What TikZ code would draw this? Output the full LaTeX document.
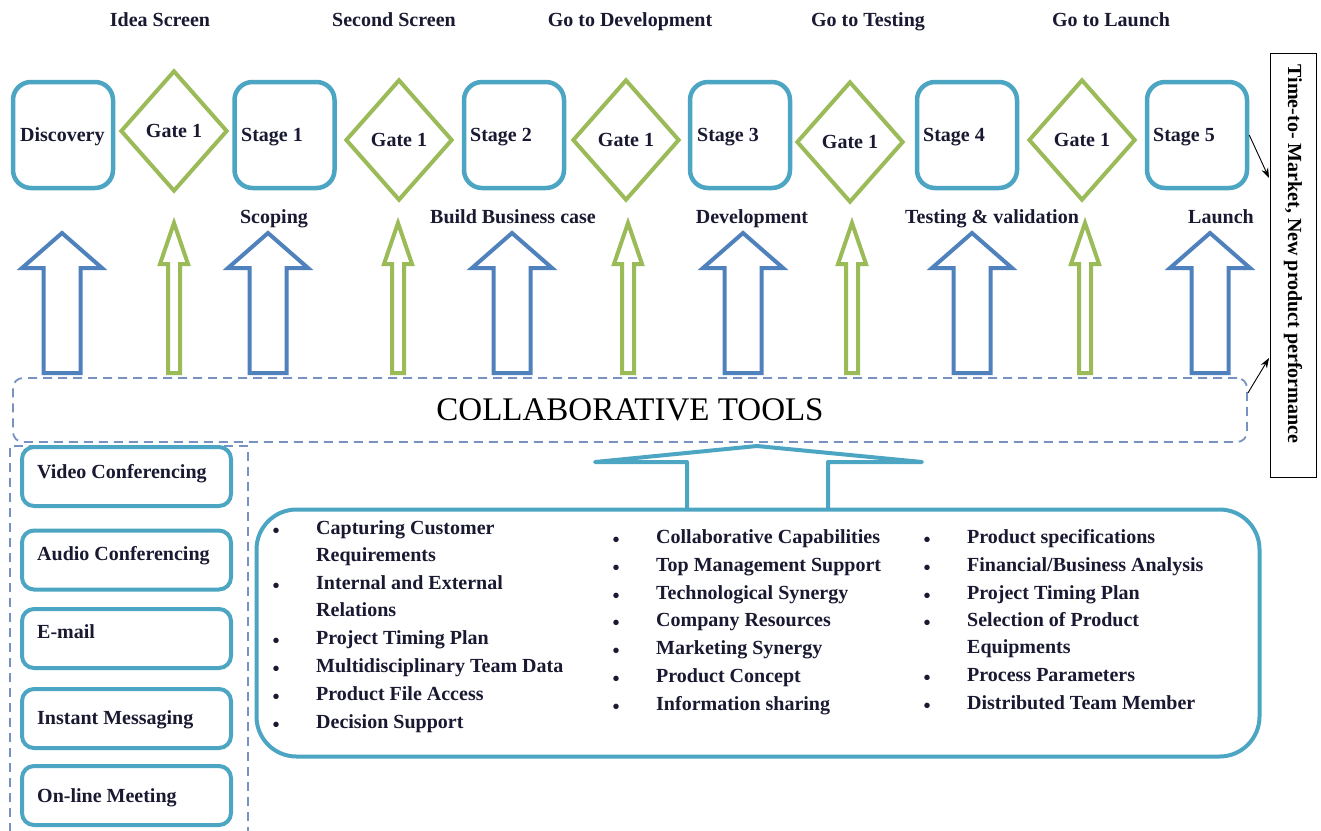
\documentclass[tikz,border=0pt]{standalone}
\usepackage{fontspec}
\setmainfont{Liberation Serif}
\usetikzlibrary{shapes.geometric,arrows.meta,calc}
\definecolor{tealc}{RGB}{75,165,195}
\definecolor{bluec}{RGB}{79,129,189}
\definecolor{greenc}{RGB}{155,187,89}
\definecolor{dashc}{RGB}{120,145,195}
\definecolor{textc}{RGB}{25,25,50}
\newcommand{\lblfont}{\fontsize{20}{24}\selectfont\bfseries}
\tikzset{
  lbl/.style={font=\lblfont, text=textc, inner sep=0pt, yshift=-4.5pt},
  stagebox/.style={draw=tealc, line width=4.5pt, rounded corners=18pt, minimum width=100pt, minimum height=106pt, inner sep=0pt},
  gatebox/.style={diamond, draw=greenc, line width=4pt, minimum width=107pt, minimum height=121pt, inner sep=0pt, font=\lblfont, text=textc},
  toolbox/.style={draw=tealc, line width=4pt, rounded corners=12pt, minimum width=209pt, minimum height=59pt, inner sep=0pt},
  dashline/.style={draw=dashc, line width=1.8pt, dash pattern=on 9pt off 6pt},
  blk/.style={draw=black, line width=0.9pt, -{Stealth[length=10pt,width=7pt]}},
  bluearrow/.pic={\draw[draw=bluec, line width=4pt, line join=miter] (-18.5,0) -- (-18.5,-105) -- (-40,-105) -- (0,-140) -- (40,-105) -- (18.5,-105) -- (18.5,0) -- cycle;},
  greenarrow/.pic={\draw[draw=greenc, line width=4pt, line join=miter] (-6,0) -- (-6,-109) -- (-14,-109) -- (0,-150) -- (14,-109) -- (6,-109) -- (6,0) -- cycle;}
}
\begin{document}
\begin{tikzpicture}[x=1pt,y=-1pt]
\useasboundingbox (0,0) rectangle (1321,830);
\fill[white] (0,0) rectangle (1321,830);

% top gate labels
\node[lbl, anchor=mid] (l1) at (160,20) {Idea Screen};
\node[lbl, anchor=mid] (l2) at (394,20) {Second Screen};
\node[lbl, anchor=mid] (l3) at (630,20) {Go to Development};
\node[lbl, anchor=mid] (l4) at (868,20) {Go to Testing};
\node[lbl, anchor=mid] (l5) at (1111,20) {Go to Launch};

% stage boxes
\node[stagebox] (s0) at (63,135) {};
\node[stagebox] (s1) at (284.5,135) {};
\node[stagebox] (s2) at (514,135) {};
\node[stagebox] (s3) at (740,135) {};
\node[stagebox] (s4) at (967,135) {};
\node[stagebox] (s5) at (1197,135) {};
\node[lbl, anchor=mid west] (s0t) at (20,135) {Discovery};
\node[lbl, anchor=mid west] (s1t) at (241,135) {Stage 1};
\node[lbl, anchor=mid west] (s2t) at (470,135) {Stage 2};
\node[lbl, anchor=mid west] (s3t) at (697,135) {Stage 3};
\node[lbl, anchor=mid west] (s4t) at (923,135) {Stage 4};
\node[lbl, anchor=mid west] (s5t) at (1153,135) {Stage 5};

% gates
\node[gatebox] (g1) at (174,131) {Gate 1};
\node[gatebox] (g2) at (399,140) {Gate 1};
\node[gatebox] (g3) at (626,140) {Gate 1};
\node[gatebox] (g4) at (850,142) {Gate 1};
\node[gatebox] (g5) at (1082,140) {Gate 1};

% stage names
\node[lbl, anchor=mid] (n1) at (274,217) {Scoping};
\node[lbl, anchor=mid] (n2) at (513,217) {Build Business case};
\node[lbl, anchor=mid] (n3) at (752,217) {Development};
\node[lbl, anchor=mid] (n4) at (992,217) {Testing \& validation};
\node[lbl, anchor=mid] (n5) at (1221,217) {Launch};

% block arrows
\foreach \x in {62,268,512,743,972,1210} \pic at (\x,373) {bluearrow};
\foreach \x in {174,398,628,852,1085} \pic at (\x,373) {greenarrow};

% collaborative tools
\node[dashline, draw, rounded corners=10pt, minimum width=1234pt, minimum height=64pt, inner sep=0pt,
      font=\fontsize{33}{36}\selectfont, text=black] (collab) at (630,410) {COLLABORATIVE TOOLS};

% left column
\draw[dashline] (10,832) -- (10,446) -- (248,446) -- (248,832);
\node[toolbox] (t1) at (126.5,476.5) {};
\node[toolbox] (t2) at (126.5,560) {};
\node[toolbox] (t3) at (126.5,638.5) {};
\node[toolbox] (t4) at (126.5,718.5) {};
\node[toolbox] (t5) at (126.5,795.5) {};
\node[lbl, anchor=mid west] (t1t) at (37,472) {Video Conferencing};
\node[lbl, anchor=mid west] (t2t) at (37,554) {Audio Conferencing};
\node[lbl, anchor=mid west] (t3t) at (37,632) {E-mail};
\node[lbl, anchor=mid west] (t4t) at (37,718) {Instant Messaging};
\node[lbl, anchor=mid west] (t5t) at (37,796) {On-line Meeting};

% big factor box
\node[draw=tealc, line width=4pt, rounded corners=40pt, minimum width=1003pt, minimum height=247pt, inner sep=0pt] (big) at (758,633) {};
\draw[tealc, line width=4pt, line join=round] (687,508) -- (687,462) -- (595,462) -- (757,446) -- (922,462) -- (828,462) -- (828,508);

% column 1
\foreach \y in {528,583,638,666,694,722} \node[lbl] at (276,\y) {\textbullet};
\node[lbl, anchor=mid west] at (316,528) {Capturing Customer};
\node[lbl, anchor=mid west] at (316,555) {Requirements};
\node[lbl, anchor=mid west] at (316,583) {Internal and External};
\node[lbl, anchor=mid west] at (316,610) {Relations};
\node[lbl, anchor=mid west] at (316,638) {Project Timing Plan};
\node[lbl, anchor=mid west] at (316,666) {Multidisciplinary Team Data};
\node[lbl, anchor=mid west] at (316,694) {Product File Access};
\node[lbl, anchor=mid west] at (316,722) {Decision Support};

% column 2
\foreach \y in {537,565,593,620,648,676,704} \node[lbl] at (616,\y) {\textbullet};
\node[lbl, anchor=mid west] at (656,537) {Collaborative Capabilities};
\node[lbl, anchor=mid west] at (656,565) {Top Management Support};
\node[lbl, anchor=mid west] at (656,593) {Technological Synergy};
\node[lbl, anchor=mid west] at (656,620) {Company Resources};
\node[lbl, anchor=mid west] at (656,648) {Marketing Synergy};
\node[lbl, anchor=mid west] at (656,676) {Product Concept};
\node[lbl, anchor=mid west] at (656,704) {Information sharing};

% column 3
\foreach \y in {537,565,593,620,675,703} \node[lbl] at (927,\y) {\textbullet};
\node[lbl, anchor=mid west] at (967,537) {Product specifications};
\node[lbl, anchor=mid west] at (967,565) {Financial/Business Analysis};
\node[lbl, anchor=mid west] at (967,593) {Project Timing Plan};
\node[lbl, anchor=mid west] at (967,620) {Selection of Product};
\node[lbl, anchor=mid west] at (967,647) {Equipments};
\node[lbl, anchor=mid west] at (967,675) {Process Parameters};
\node[lbl, anchor=mid west] at (967,703) {Distributed Team Member};

% time to market box
\node[draw=black, line width=0.9pt, minimum width=424pt, minimum height=46pt, inner sep=0pt, rotate=-90] (ttm) at (1293,265) {};
\node[font=\lblfont, text=black, inner sep=0pt, rotate=-90] (ttmt) at (1293,254) {Time-to- Market, New product performance};
\coordinate (e1) at (1269,178);
\coordinate (e2) at (1269,358);
\draw[blk] (s5.east) -- (e1);
\draw[blk] ($(collab.east)+(0,-17)$) -- (e2);
\end{tikzpicture}
\end{document}
